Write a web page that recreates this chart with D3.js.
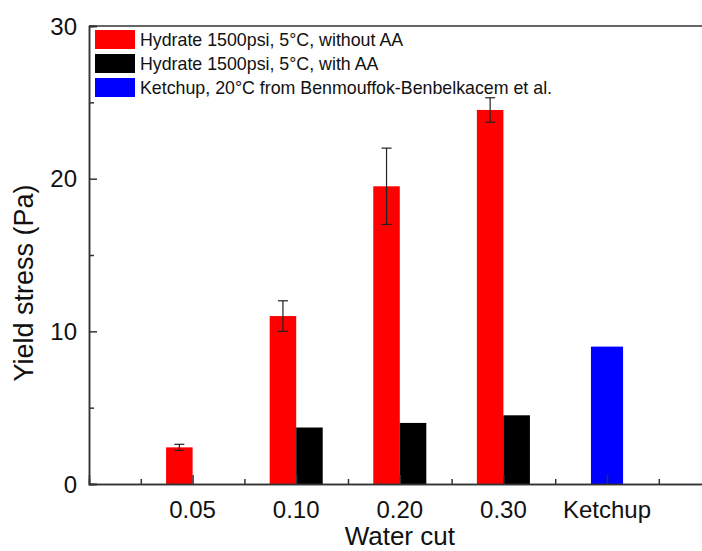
<!DOCTYPE html>
<html>
<head>
<meta charset="utf-8">
<script src="https://cdn.jsdelivr.net/npm/d3@7"></script>
<style>
  body { margin: 0; background: #fff; }
  svg { font-family: "Liberation Sans", Arial, sans-serif; display: block; }
</style>
</head>
<body>
<svg id="chart"></svg>
<script>
// data
var categories = ["0.05", "0.10", "0.20", "0.30", "Ketchup"];
var withoutAA = [2.4, 11, 19.5, 24.5, null];
var withoutAAErrLow = [2.2, 10, 17, 23.7, null];
var withoutAAErrHigh = [2.6, 12, 22, 25.3, null];
var withAA = [null, 3.7, 4.0, 4.5, null];
var ketchup = [null, null, null, null, 9];
var seriesNames = [
  "Hydrate 1500psi, 5\u00B0C, without AA",
  "Hydrate 1500psi, 5\u00B0C, with AA",
  "Ketchup, 20\u00B0C from Benmouffok-Benbelkacem et al."
];
var seriesColors = ["#ff0000", "#000000", "#0000ff"];
var yMajorTicks = [0, 10, 20, 30];
var yMinorTicks = [5, 15, 25];

var width = 702, height = 551;
var svg = d3.select("#chart").attr("width", width).attr("height", height);

var plotLeft = 89, plotTop = 26, plotBottom = 484;

// categories sit at 1..5 on a 0..6 axis
var x = d3.scaleLinear().domain([0, 6]).range([plotLeft, plotLeft + 6 * 103.6]);
var y = d3.scaleLinear().domain([0, 30]).range([plotBottom, plotTop]);
var barW = x(0.256) - x(0);
var blueW = x(0.31) - x(0);

var plot = svg.append("g");

// red bars (left half of slot)
plot.selectAll(".red")
  .data(withoutAA.map((v, i) => ({v: v, i: i})).filter(d => d.v != null))
  .enter().append("rect")
  .attr("x", d => x(d.i + 1) - barW)
  .attr("y", d => y(d.v))
  .attr("width", barW)
  .attr("height", d => y(0) - y(d.v))
  .attr("fill", seriesColors[0]);

// black bars (right half of slot)
plot.selectAll(".black")
  .data(withAA.map((v, i) => ({v: v, i: i})).filter(d => d.v != null))
  .enter().append("rect")
  .attr("x", d => x(d.i + 1))
  .attr("y", d => y(d.v))
  .attr("width", barW)
  .attr("height", d => y(0) - y(d.v))
  .attr("fill", seriesColors[1]);

// ketchup bar, centred
plot.selectAll(".blue")
  .data(ketchup.map((v, i) => ({v: v, i: i})).filter(d => d.v != null))
  .enter().append("rect")
  .attr("x", d => x(d.i + 1) - blueW / 2)
  .attr("y", d => y(d.v))
  .attr("width", blueW)
  .attr("height", d => y(0) - y(d.v))
  .attr("fill", seriesColors[2]);

// error bars on red series
var errs = withoutAA.map((v, i) => ({i: i, lo: withoutAAErrLow[i], hi: withoutAAErrHigh[i]}))
  .filter(d => d.lo != null);
var eg = plot.selectAll(".err").data(errs).enter().append("g")
  .attr("stroke", "#222").attr("stroke-width", 1.2);
eg.append("line")
  .attr("x1", d => x(d.i + 1) - barW / 2).attr("x2", d => x(d.i + 1) - barW / 2)
  .attr("y1", d => y(d.lo)).attr("y2", d => y(d.hi));
eg.append("line")
  .attr("x1", d => x(d.i + 1) - barW / 2 - 5).attr("x2", d => x(d.i + 1) - barW / 2 + 5)
  .attr("y1", d => y(d.lo)).attr("y2", d => y(d.lo));
eg.append("line")
  .attr("x1", d => x(d.i + 1) - barW / 2 - 5).attr("x2", d => x(d.i + 1) - barW / 2 + 5)
  .attr("y1", d => y(d.hi)).attr("y2", d => y(d.hi));

// y axis, ticks pointing inward
svg.append("g").attr("transform", "translate(" + plotLeft + ",0)")
  .call(d3.axisRight(y).tickValues(yMajorTicks).tickSize(8).tickFormat(""));
svg.append("g").attr("transform", "translate(" + plotLeft + ",0)")
  .call(d3.axisRight(y).tickValues(yMinorTicks).tickSize(5).tickFormat(""));

svg.selectAll(".ylab").data(yMajorTicks).enter().append("text")
  .attr("x", 77).attr("y", d => y(d)).attr("dy", "0.36em")
  .attr("text-anchor", "end").attr("font-size", 24).attr("fill", "#111")
  .text(d => d);

// x axis
var xMajor = categories.map((c, i) => i + 1);
var xMinor = [0.5, 1.5, 2.5, 3.5, 4.5, 5.5];
svg.append("g").attr("transform", "translate(0," + plotBottom + ")")
  .call(d3.axisTop(x).tickValues(xMajor).tickSize(9).tickFormat(""));
svg.append("g").attr("transform", "translate(0," + plotBottom + ")")
  .call(d3.axisTop(x).tickValues(xMinor).tickSize(5).tickFormat(""));

svg.selectAll(".xlab").data(categories).enter().append("text")
  .attr("x", (d, i) => x(i + 1)).attr("y", 518)
  .attr("text-anchor", "middle").attr("font-size", 24).attr("fill", "#111")
  .text(d => d);

svg.selectAll(".domain, .tick line").attr("stroke", "#333").attr("stroke-width", 1.5);

// frame top line
svg.append("line")
  .attr("x1", plotLeft).attr("x2", width).attr("y1", plotTop).attr("y2", plotTop)
  .attr("stroke", "#333").attr("stroke-width", 1.5);

// axis titles
svg.append("text")
  .attr("x", x(3)).attr("y", 545)
  .attr("text-anchor", "middle").attr("font-size", 26).attr("fill", "#111")
  .text("Water cut");
svg.append("text")
  .attr("transform", "translate(33,283) rotate(-90)")
  .attr("text-anchor", "middle").attr("font-size", 27).attr("fill", "#111")
  .text("Yield stress (Pa)");

// legend
var legend = svg.append("g").attr("transform", "translate(95,30)");
var item = legend.selectAll(".item").data(seriesNames).enter().append("g")
  .attr("transform", (d, i) => "translate(0," + (i * 24) + ")");
item.append("rect").attr("width", 40).attr("height", 19)
  .attr("fill", (d, i) => seriesColors[i]);
item.append("text").attr("x", 45).attr("y", 16)
  .attr("font-size", 17.8).attr("fill", "#111")
  .text(d => d);
</script>
</body>
</html>
